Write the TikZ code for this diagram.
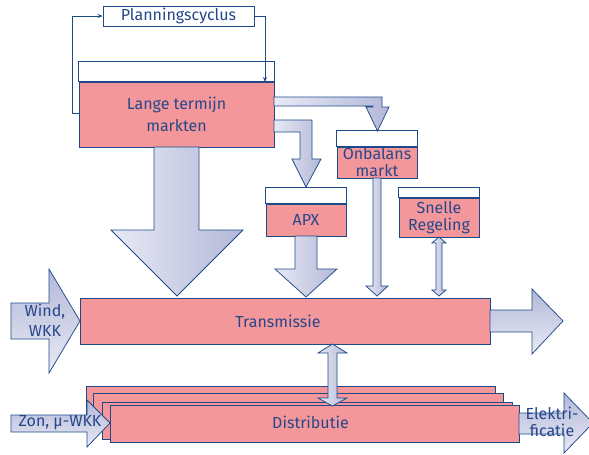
\documentclass[tikz,border=0pt]{standalone}
\usepackage{fontspec}
\setmainfont{Fira Sans}
\usetikzlibrary{arrows.meta,calc}
\definecolor{bord}{HTML}{1F4A8A}
\definecolor{txt}{HTML}{264789}
\definecolor{pinkc}{HTML}{F4979B}
\definecolor{lightc}{HTML}{E8EAF4}
\definecolor{darkc}{HTML}{B3B8D8}
\tikzset{
  pinkbox/.style={draw=bord, fill=pinkc, line width=0.8pt, inner sep=0pt, align=center, text=txt, font=\fontsize{16}{21.5}\selectfont},
  tight/.style={font=\fontsize{16}{17}\selectfont},
  strip/.style={draw=bord, fill=white, line width=0.8pt},
  flowh/.style={draw=bord, line width=0.75pt, left color=lightc, right color=darkc},
  flowv/.style={draw=bord, line width=0.75pt, top color=darkc, bottom color=lightc},
  lbl/.style={text=txt, align=center, inner sep=0pt, font=\fontsize{16}{20.5}\selectfont},
  loopline/.style={draw=bord, line width=0.7pt},
  tipa/.style={-{Stealth[length=5pt,width=4pt]}}
}
\begin{document}
\begin{tikzpicture}[x=1pt,y=-1pt]
\useasboundingbox (0,0) rectangle (589,455);

% Planningscyclus
\node[pinkbox, fill=white, minimum width=151pt, minimum height=20pt] (plan) at (178.5,16) {Planningscyclus};

% Lange termijn markten
\node[pinkbox, minimum width=195pt, minimum height=65pt] (lange) at (176.5,114.5) {Lange termijn\\markten};
\draw[strip] (lange.north west) rectangle ($(lange.north east)+(0,-20)$);

% feedback loop
\coordinate (lw) at ($(lange.west)+(0,-1.5)$);
\draw[loopline,tipa] (lw) -- (72,113) -- (72,16) -- (plan.west);
\draw[loopline,tipa] (plan.east) -- (265,16) -- (265,82);

% Onbalans markt
\node[pinkbox, tight, minimum width=80pt, minimum height=31pt] (onb) at (377,162.5) {Onbalans\\markt};
\draw[strip] (onb.north west) rectangle ($(onb.north east)+(0,-16)$);

% APX
\node[pinkbox, minimum width=80pt, minimum height=32pt] (apx) at (306,220) {APX};
\draw[strip] (apx.north west) rectangle ($(apx.north east)+(0,-16)$);

% Snelle Regeling
\node[pinkbox, tight, minimum width=80pt, minimum height=39pt] (snel) at (439,217.5) {Snelle\\Regeling};
\draw[strip] (snel.north west) rectangle ($(snel.north east)+(0,-10)$);

% arrows from Lange termijn
\path[flowh] (274,97) -- (382,97) -- (382,107) -- (389,107) -- (377.5,131) -- (366,107) -- (373,107) -- (373,106) -- (274,106) -- cycle;
\path[flowh] (274,120) -- (312,120) -- (312,159) -- (321,159) -- (306,187) -- (292,159) -- (300,159) -- (300,132) -- (274,132) -- cycle;

% Transmissie
\node[pinkbox, minimum width=410pt, minimum height=46pt] (trans) at (285,321) {};
\node[lbl] (transl) at (278,321) {Transmissie};

% big down arrow
\path[flowh] (154,147) -- (199,147) -- (199,230) -- (243,230) -- (177,296) -- (111,230) -- (154,230) -- cycle;
% APX down arrow
\path[flowh] (295,236) -- (317,236) -- (317,269) -- (337,269) -- (306,297) -- (275,269) -- (295,269) -- cycle;
% Onbalans down arrow
\path[flowh] (373,178) -- (381,178) -- (381,286) -- (388,286) -- (377,296) -- (366,286) -- (373,286) -- cycle;
% Snelle double arrow
\path[flowh] (436,243) -- (432,243) -- (439,237) -- (446,243) -- (442,243) -- (442,290) -- (446,290) -- (439,296) -- (432,290) -- (436,290) -- cycle;

% Wind arrow
\path[flowv] (11,303) -- (49,303) -- (49,269) -- (80,321) -- (49,373) -- (49,339) -- (11,339) -- cycle;
\node[lbl] (wind) at (45,320.5) {Wind,\\WKK};

% right arrow
\path[flowv] (490,310) -- (532,310) -- (532,289) -- (563,321) -- (532,354) -- (532,332) -- (490,332) -- cycle;

% Distributie stack
\node[pinkbox, minimum width=409pt, minimum height=37pt] (d1) at (290.5,404.5) {};
\node[pinkbox, minimum width=410pt, minimum height=37pt] (d2) at (298,411.5) {};
\node[pinkbox, minimum width=410pt, minimum height=37pt] (d3) at (307,420.5) {};

% Zon arrow
\path[flowv] (11,415) -- (87,415) -- (87,400) -- (110,423) -- (87,447) -- (87,432) -- (11,432) -- cycle;

\node[pinkbox, minimum width=409pt, minimum height=37pt] (dist) at (314.5,423.5) {};
\node[lbl] (distl) at (310.5,422.5) {Distributie};
\node[lbl] (zon) at (60,423) {Zon, μ-WKK};

% Trans - Dist double arrow
\path[flowh] (328,353) -- (318,353) -- (332.5,344) -- (347,353) -- (337,353) -- (337,398) -- (347,398) -- (332.5,406) -- (318,398) -- (328,398) -- cycle;

% Elektrificatie arrow
\path[flowv] (519,413) -- (564,413) -- (564,393) -- (593,423) -- (564,453) -- (564,434) -- (519,434) -- cycle;
\node[lbl, font=\fontsize{16}{16.5}\selectfont] (elek) at (552,422) {Elektri-\\ficatie};
\end{tikzpicture}
\end{document}
